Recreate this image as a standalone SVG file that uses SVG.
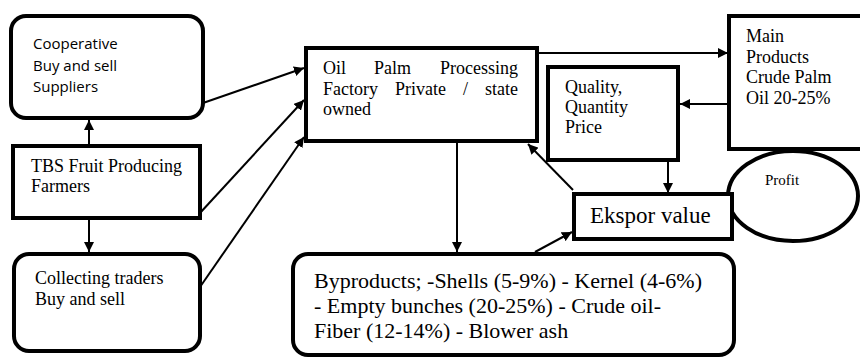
<svg xmlns="http://www.w3.org/2000/svg" width="860" height="358" viewBox="0 0 860 358">
<defs>
<marker id="ah" viewBox="0 0 10 10" refX="10" refY="5" markerWidth="10" markerHeight="10" markerUnits="userSpaceOnUse" orient="auto">
<path d="M0,0 L10,5 L0,10 z" fill="#000"/>
</marker>
<style>
.box{fill:#fff;stroke:#000;stroke-width:4}
.ser{font-family:'Liberation Serif','Times New Roman',Tinos,'DejaVu Serif','Noto Serif',serif;fill:#000}
.sans{font-family:'Open Sans','Liberation Sans',sans-serif;fill:#000}
.con line{stroke:#000;stroke-width:2;fill:none}
.arr{marker-end:url(#ah)}
</style>
</defs>
<g id="cooperative">
<rect class="box" x="11" y="16" width="192" height="102" rx="15"/>
<text class="sans" font-size="15"><tspan x="33" y="49">Cooperative</tspan><tspan x="33" y="71">Buy and sell</tspan><tspan x="33" y="92">Suppliers</tspan></text>
</g>
<g id="farmers">
<rect class="box" x="13" y="146" width="187" height="72"/>
<text class="ser" font-size="18" font-family="Liberation Serif, DejaVu Serif, serif"><tspan x="31" y="172">TBS Fruit Producing</tspan><tspan x="31" y="192">Farmers</tspan></text>
</g>
<g id="collecting">
<rect class="box" x="14" y="254" width="186" height="97" rx="15"/>
<text class="ser" font-size="18"><tspan x="35" y="284">Collecting traders</tspan><tspan x="35" y="305">Buy and sell</tspan></text>
</g>
<g id="factory">
<rect class="box" x="306" y="48" width="231" height="93"/>
<text class="ser" font-size="18"><tspan x="323" y="74">Oil</tspan><tspan x="374" y="74">Palm</tspan><tspan x="518" y="74" text-anchor="end">Processing</tspan><tspan x="323" y="95">Factory</tspan><tspan x="395" y="95">Private</tspan><tspan x="463" y="95">/</tspan><tspan x="518" y="95" text-anchor="end">state</tspan><tspan x="323" y="115">owned</tspan></text>
</g>
<g id="main-products">
<rect class="box" x="729" y="16" width="140" height="133"/>
<text class="ser" font-size="18"><tspan x="746" y="42">Main</tspan><tspan x="746" y="63">Products</tspan><tspan x="746" y="83">Crude Palm</tspan><tspan x="746" y="104">Oil 20-25%</tspan></text>
</g>
<g id="quality">
<rect class="box" x="548" y="67" width="130" height="93"/>
<text class="ser" font-size="18"><tspan x="565" y="93">Quality,</tspan><tspan x="565" y="113">Quantity</tspan><tspan x="565" y="133">Price</tspan></text>
</g>
<g id="profit">
<ellipse class="box" cx="793" cy="196" rx="65" ry="45"/>
<text class="ser" font-size="15" x="765" y="185">Profit</text>
</g>
<g id="ekspor">
<rect class="box" x="574" y="194" width="158" height="45"/>
<text class="ser" font-size="23" x="590" y="223">Ekspor value</text>
</g>
<g id="byproducts">
<rect class="box" x="293" y="254" width="441" height="101" rx="15"/>
<text class="ser" font-size="22"><tspan x="314" y="288">Byproducts; -Shells (5-9%) - Kernel (4-6%)</tspan><tspan x="314" y="313">- Empty bunches (20-25%) - Crude oil-</tspan><tspan x="314" y="338">Fiber (12-14%) - Blower ash</tspan></text>
</g>
<g id="connectors" class="con">
<line class="arr" x1="89" y1="146" x2="89" y2="120"/>
<line class="arr" x1="89" y1="218" x2="89" y2="252"/>
<line class="arr" x1="203" y1="103" x2="304" y2="68"/>
<line class="arr" x1="200" y1="213" x2="304" y2="100"/>
<line class="arr" x1="200" y1="287" x2="304" y2="137"/>
<line class="arr" x1="537" y1="53" x2="728" y2="53"/>
<line class="arr" x1="729" y1="104" x2="680" y2="104"/>
<line class="arr" x1="668" y1="160" x2="668" y2="193"/>
<line class="arr" x1="573" y1="190" x2="528" y2="144"/>
<line class="arr" x1="457" y1="143" x2="457" y2="252"/>
<line class="arr" x1="535" y1="252" x2="572" y2="232"/>
</g>
</svg>
